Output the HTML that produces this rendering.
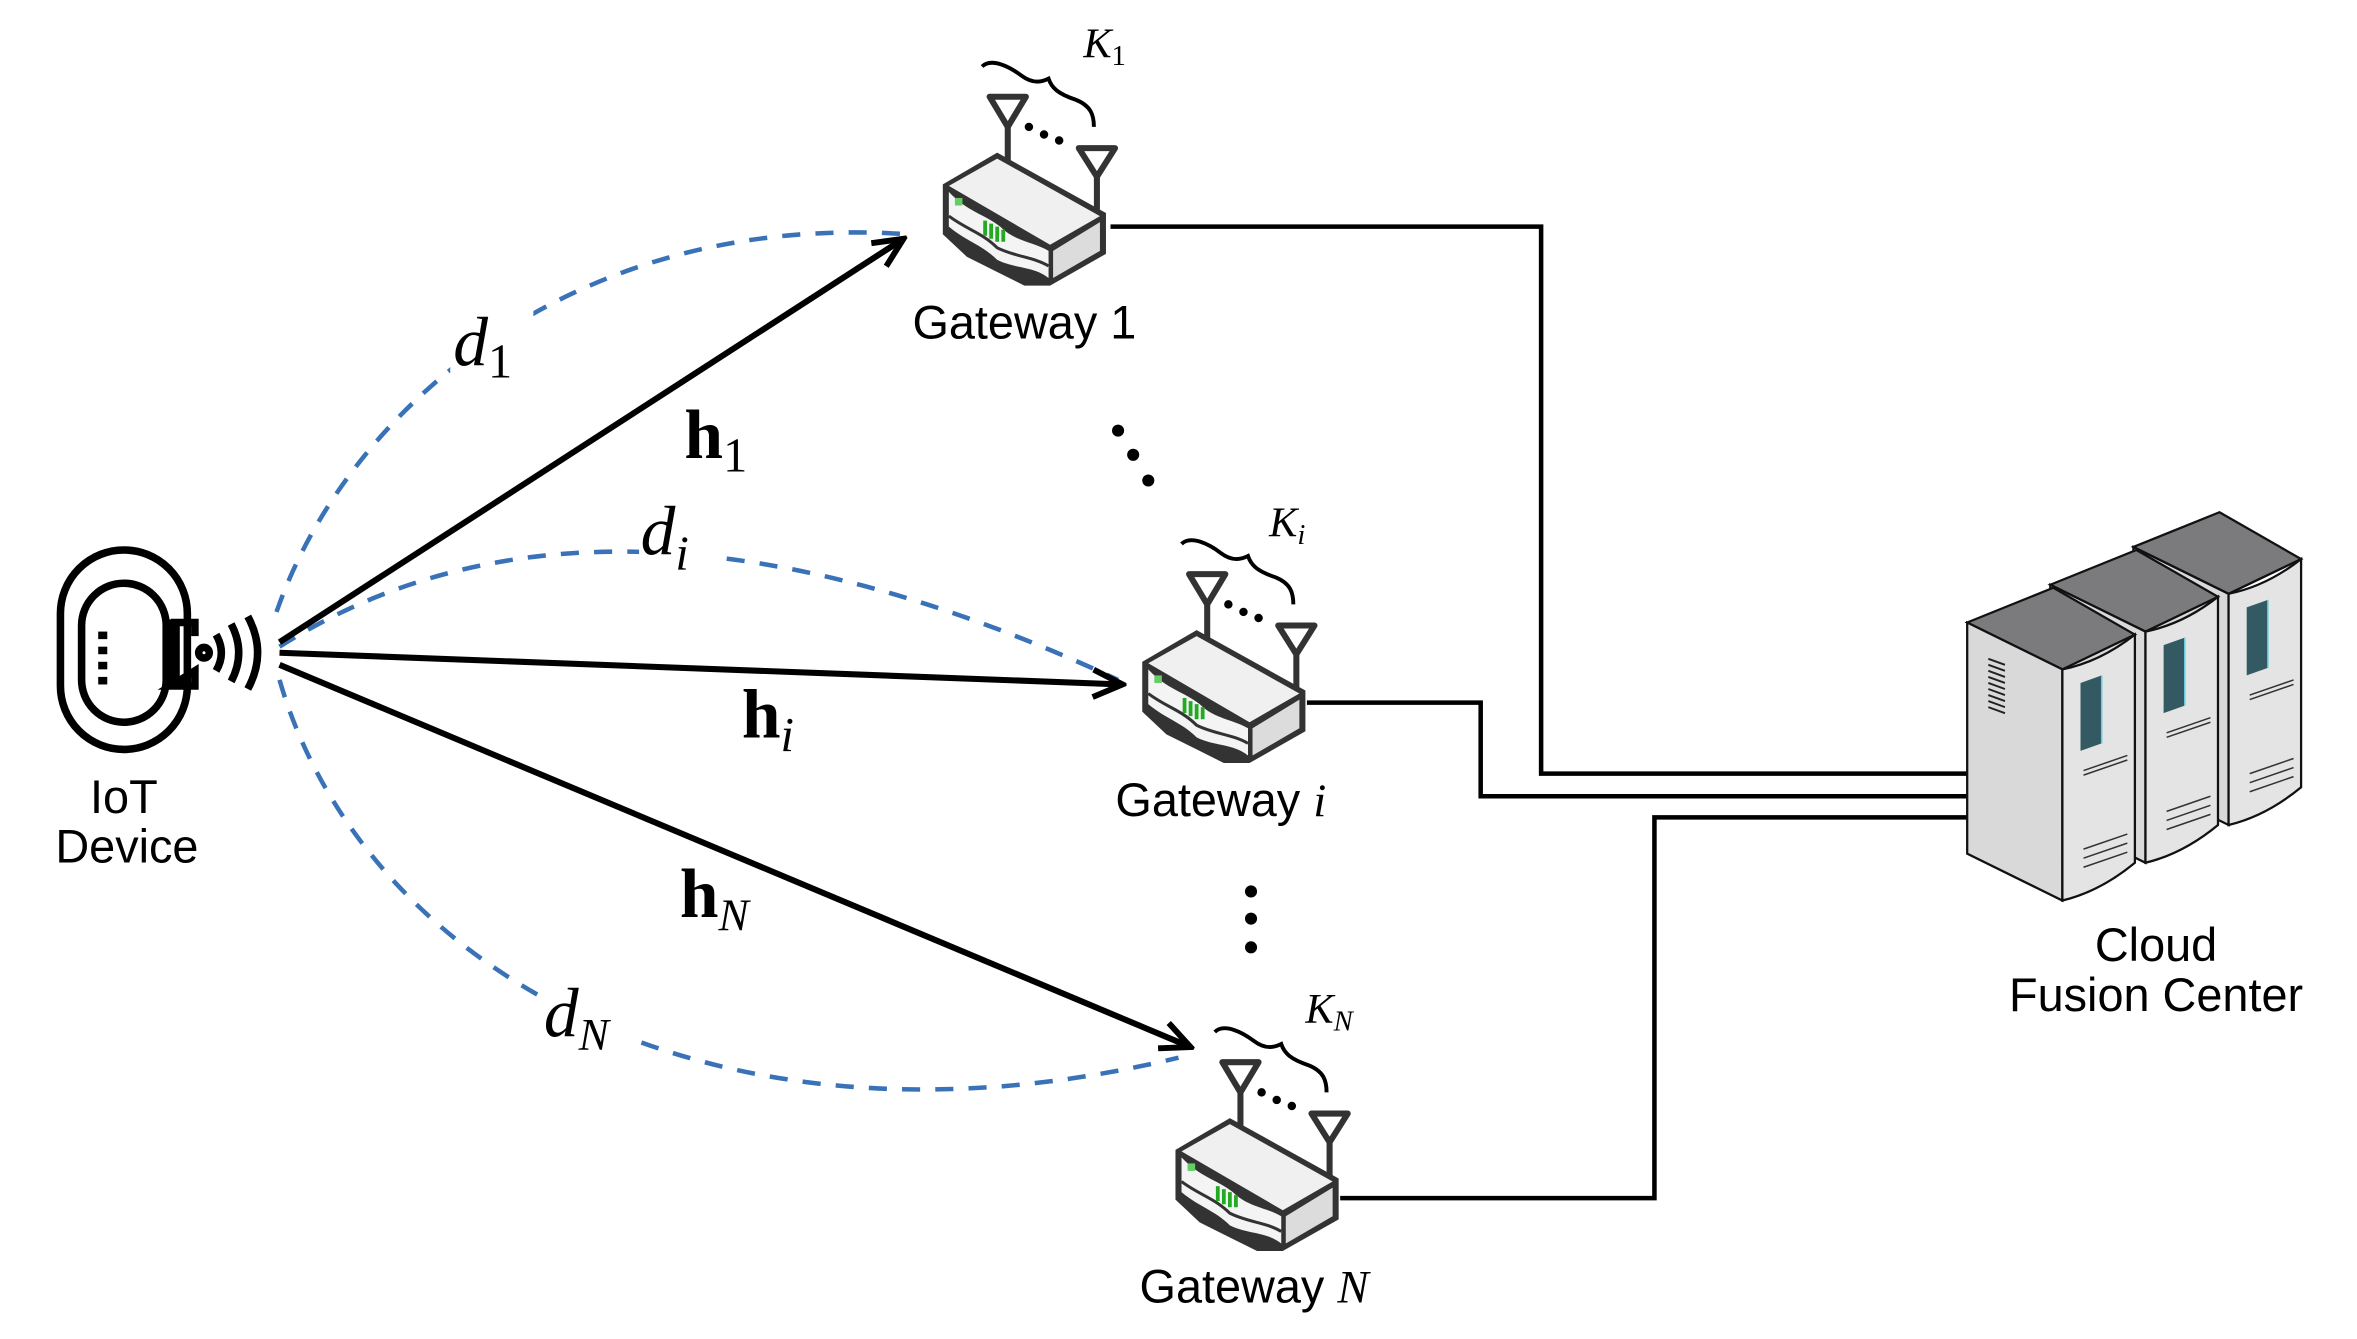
<!DOCTYPE html>
<html><head><meta charset="utf-8"><style>html,body{margin:0;padding:0;background:#fff}svg{display:block}</style></head>
<body>
<svg width="2357" height="1339" viewBox="0 0 1560 886.2" xmlns="http://www.w3.org/2000/svg">
<defs>
<marker id="ah" viewBox="0 0 20 20" refX="18" refY="10" markerWidth="26" markerHeight="26" markerUnits="userSpaceOnUse" orient="auto">
<path d="M3,3 L18,10 L3,17" fill="none" stroke="#000" stroke-width="3"/>
</marker>
<g id="gw">
<line x1="667" y1="70" x2="667" y2="108" stroke="#333" stroke-width="4"/>
<polygon points="655,64 679,64 667,84" fill="#fff" stroke="#333" stroke-width="4" stroke-linejoin="round"/>
<line x1="726" y1="104" x2="726" y2="140" stroke="#333" stroke-width="4"/>
<polygon points="714,98 738,98 726,117" fill="#fff" stroke="#333" stroke-width="4" stroke-linejoin="round"/>
<circle cx="681" cy="84" r="2.8"/><circle cx="691" cy="89" r="2.8"/><circle cx="701" cy="93" r="2.8"/>
<path d="M650,44 C656,38 668,44 676,50 C684,56 690,54 694,52 C696,58 700,62 712,66 C722,70 724,76 724,84" fill="none" stroke="#000" stroke-width="2.6"/>
<polygon points="624,122 624,155 640,170 660,180 678,189 695,189 732,168 732,141 660,101" fill="#333"/>
<polygon points="628,123 660,105 728,143 695,162" fill="#f0f0f0"/>
<polygon points="697,166 728,147 728,166 697,184" fill="#dcdcdc"/>
<path d="M628,127 L628,150 C640,160 650,162 660,172 C672,178 684,176 694,184 L694,166 C684,160 672,160 662,150 C652,142 640,140 628,127Z" fill="#f4f4f4"/>
<path d="M628,143 C640,152 650,154 660,164 C672,170 684,170 694,176" fill="none" stroke="#333" stroke-width="2"/>
<rect x="632" y="131" width="5" height="5" fill="#6c6"/>
<path d="M652,146 l0,10 M656,148 l0,10 M660,150 l0,10 M664,152 l0,8" stroke="#2a2" stroke-width="2.5"/>
</g>
<g id="tower">
<polygon points="1302,412 1359,389 1413,420 1365,443" fill="#7b7b7e" stroke="#111" stroke-width="1.5"/>
<polygon points="1302,412 1365,443 1365,596 1302,565" fill="#d9d9d9" stroke="#111" stroke-width="1.5"/>
<path d="M1365,443 Q1390,438 1413,420 L1413,571 Q1390,590 1365,596 Z" fill="#e4e4e4" stroke="#111" stroke-width="1.5"/>
<path d="M1377,452 L1391,447 L1391,492 L1377,497Z" fill="#335a63"/>
<line x1="1391" y1="447" x2="1391" y2="492" stroke="#6cd" stroke-width="1"/>
<path d="M1379,510 L1408,500 M1379,513 L1408,503 M1379,562 L1408,552 M1379,568 L1408,558 M1379,574 L1408,564" stroke="#333" stroke-width="1"/>
</g>
</defs>

<g fill="none" stroke="#000" stroke-width="3">
<polyline points="735,150 1020,150 1020,512 1310,512"/>
<polyline points="865,465 980,465 980,527 1310,527"/>
<polyline points="887,793 1095,793 1095,541 1310,541"/>
</g>

<g fill="none" stroke="#3a72b8" stroke-width="3" stroke-dasharray="12,10">
<path d="M183,405 C230,270 380,140 600,155"/>
<path d="M185,428 Q400,292 740,450"/>
<path d="M185,450 C240,640 470,775 780,700"/>
</g>
<rect x="423" y="340" width="50" height="45" fill="#fff"/>
<rect x="298" y="205" width="55" height="50" fill="#fff"/>
<rect x="358" y="652" width="62" height="48" fill="#fff"/>

<g stroke="#000" stroke-width="4" fill="none" marker-end="url(#ah)">
<line x1="185" y1="425" x2="598" y2="158"/>
<line x1="185" y1="432" x2="743" y2="453"/>
<line x1="185" y1="440" x2="788" y2="693"/>
</g>

<g fill="none" stroke="#000" stroke-width="5">
<rect x="40" y="364" width="84" height="132" rx="42"/>
<rect x="54" y="386" width="56" height="92" rx="28"/>
<path d="M113,412 h16 v9 M129,444 v10 h-16 z" stroke-width="5"/>
<circle cx="135" cy="432" r="3.5"/>
<path d="M143,420 Q150,432 143,444 M153,413 Q163,432 153,451 M164,408 Q177,432 164,456"/>
</g>
<rect x="111" y="410" width="8" height="46" fill="#000"/>
<g fill="#000"><rect x="65" y="418" width="6" height="5"/><rect x="65" y="428" width="6" height="5"/><rect x="65" y="438" width="6" height="5"/><rect x="65" y="448" width="6" height="5"/></g>

<use href="#gw"/>
<use href="#gw" transform="translate(132,316)"/>
<use href="#gw" transform="translate(154,639)"/>

<use href="#tower" transform="translate(110,-50)"/>
<use href="#tower" transform="translate(55,-25)"/>
<use href="#tower"/>
<g stroke="#222" stroke-width="1.3"><path d="M1316,436 l11,4 M1316,440 l11,4 M1316,444 l11,4 M1316,448 l11,4 M1316,452 l11,4 M1316,456 l11,4 M1316,460 l11,4 M1316,464 l11,4 M1316,468 l11,4"/></g>

<circle cx="740" cy="285" r="4"/><circle cx="750" cy="301" r="4"/><circle cx="760" cy="318" r="4"/>
<circle cx="828" cy="590" r="4"/><circle cx="828" cy="608" r="4"/><circle cx="828" cy="627" r="4"/>

<g font-family="Liberation Sans, DejaVu Sans, sans-serif" font-size="31" fill="#000" text-anchor="middle">
<text x="82" y="538">IoT</text>
<text x="84" y="571">Device</text>
<text x="678" y="224">Gateway 1</text>
<text x="808" y="540">Gateway <tspan font-family="Liberation Serif, serif" font-style="italic">i</tspan></text>
<text x="830" y="862">Gateway <tspan font-family="Liberation Serif, serif" font-style="italic">N</tspan></text>
<text x="1427" y="636">Cloud</text>
<text x="1427" y="669">Fusion Center</text>
</g>
<g font-family="Liberation Serif, DejaVu Serif, serif" fill="#000">
<text x="300" y="242" font-size="46" font-style="italic">d<tspan font-size="32" font-style="normal" dy="8">1</tspan></text>
<text x="453" y="303" font-size="46" font-weight="bold">h<tspan font-size="32" font-weight="normal" dy="9">1</tspan></text>
<text x="424" y="367" font-size="46" font-style="italic">d<tspan font-size="32" dy="10">i</tspan></text>
<text x="491" y="488" font-size="46" font-weight="bold">h<tspan font-size="32" font-weight="normal" font-style="italic" dy="9">i</tspan></text>
<text x="450" y="607" font-size="46" font-weight="bold">h<tspan font-size="30" font-weight="normal" font-style="italic" dy="9">N</tspan></text>
<text x="360" y="686" font-size="46" font-style="italic">d<tspan font-size="30" dy="9">N</tspan></text>
<text x="717" y="38" font-size="28" font-style="italic">K<tspan font-size="19" font-style="normal" dy="5">1</tspan></text>
<text x="840" y="355" font-size="28" font-style="italic">K<tspan font-size="19" dy="5">i</tspan></text>
<text x="864" y="677" font-size="28" font-style="italic">K<tspan font-size="19" dy="5">N</tspan></text>
</g>
</svg>
</body></html>
